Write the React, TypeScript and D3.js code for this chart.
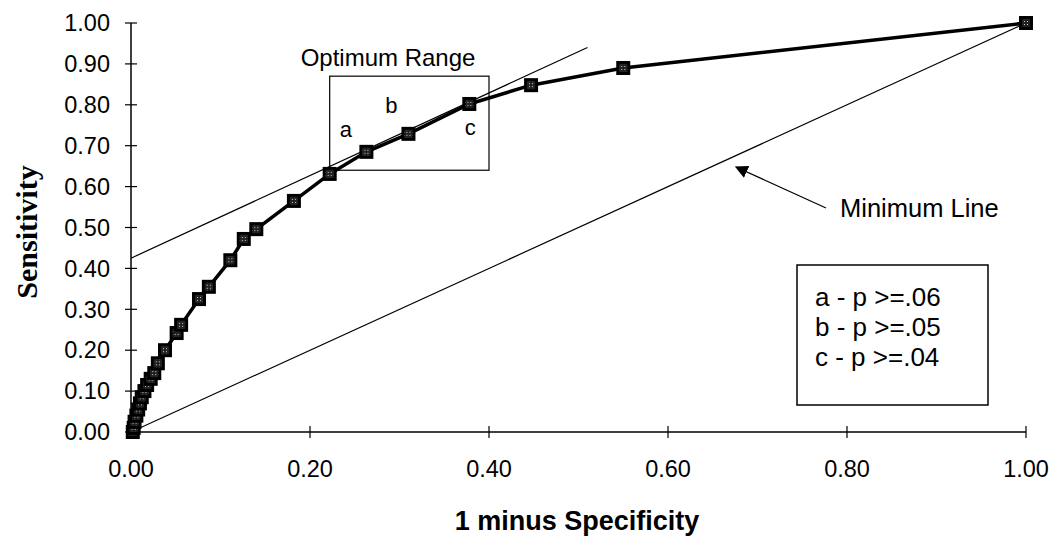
import React from 'react'
import * as d3 from 'd3'

// ROC curve points (1 - specificity, sensitivity)
const fpr = [0.002, 0.003, 0.004, 0.006, 0.008, 0.010, 0.012, 0.015, 0.018, 0.022, 0.026, 0.030, 0.038, 0.051, 0.056, 0.076, 0.087, 0.111, 0.126, 0.140, 0.182, 0.222, 0.263, 0.310, 0.378, 0.447, 0.550, 1.00]
const sens = [0.0, 0.01, 0.025, 0.04, 0.055, 0.07, 0.085, 0.10, 0.115, 0.13, 0.144, 0.168, 0.20, 0.242, 0.262, 0.325, 0.355, 0.42, 0.472, 0.496, 0.565, 0.631, 0.685, 0.729, 0.802, 0.848, 0.89, 1.00]

const xTicks = [0, 0.2, 0.4, 0.6, 0.8, 1.0]
const yTicks = [0, 0.1, 0.2, 0.3, 0.4, 0.5, 0.6, 0.7, 0.8, 0.9, 1.0]

// tangent line (intercept, end x, slope)
const tangent = { x0: 0, y0: 0.425, x1: 0.51, slope: 1.01 }
// optimum range box in data units
const optBox = { x0: 0.222, x1: 0.40, y0: 0.64, y1: 0.87 }
const letters = [
  { t: 'a', x: 0.24, y: 0.74 },
  { t: 'b', x: 0.291, y: 0.80 },
  { t: 'c', x: 0.379, y: 0.745 },
]
const legendLines = ['a - p >=.06', 'b - p >=.05', 'c - p >=.04']

const W = 1055
const H = 557

export default function App() {
  const x = d3.scaleLinear().domain([0, 1]).range([131, 1026])
  const y = d3.scaleLinear().domain([0, 1]).range([432, 23])
  const pts = fpr.map((v, i) => [v, sens[i]] as [number, number])
  const line = d3.line<[number, number]>().x(d => x(d[0])).y(d => y(d[1]))
  const font = 'Arial, "Liberation Sans", sans-serif'
  const ms = 14

  return (
    <svg width={W} height={H} style={{ position: 'absolute', left: 0, top: 0, background: '#fff' }}>
      <defs>
        <pattern id="dots" width="3" height="3" patternUnits="userSpaceOnUse">
          <rect width="3" height="3" fill="#222" />
          <rect x="1" y="1" width="1" height="1" fill="#ccc" />
        </pattern>
        <marker id="arrow" viewBox="0 0 10 10" refX="9" refY="5" markerWidth="13" markerHeight="13" orient="auto-start-reverse" markerUnits="userSpaceOnUse">
          <path d="M0,0 L10,5 L0,10 z" fill="#000" />
        </marker>
      </defs>

      {/* axes */}
      <line x1={x(0)} x2={x(0)} y1={y(0)} y2={y(1)} stroke="#000" strokeWidth={1.5} />
      <line x1={x(0)} x2={x(1)} y1={y(0)} y2={y(0)} stroke="#000" strokeWidth={1.5} />
      {yTicks.map(t => (
        <g key={'y' + t}>
          <line x1={x(0) - 6} x2={x(0) + 6} y1={y(t)} y2={y(t)} stroke="#000" strokeWidth={1.2} />
          <text x={110} y={y(t)} dy="0.35em" textAnchor="end" fontFamily={font} fontSize={23.5}>{t.toFixed(2)}</text>
        </g>
      ))}
      {xTicks.map(t => (
        <g key={'x' + t}>
          <line x1={x(t)} x2={x(t)} y1={y(0) - 6} y2={y(0) + 6} stroke="#000" strokeWidth={1.2} />
          <text x={x(t)} y={469} dy="0.35em" textAnchor="middle" fontFamily={font} fontSize={23.5}>{t.toFixed(2)}</text>
        </g>
      ))}
      <text transform="translate(37,232) rotate(-90)" textAnchor="middle" fontFamily='"Liberation Serif", "Times New Roman", serif' fontWeight="bold" fontSize={30}>Sensitivity</text>
      <text x={577} y={521} dy="0.35em" textAnchor="middle" fontFamily={font} fontWeight="bold" fontSize={27}>1 minus Specificity</text>

      {/* minimum line */}
      <line x1={x(0)} y1={y(0)} x2={x(1)} y2={y(1)} stroke="#000" strokeWidth={1.2} />
      {/* tangent */}
      <line x1={x(tangent.x0)} y1={y(tangent.y0)} x2={x(tangent.x1)} y2={y(tangent.y0 + tangent.slope * tangent.x1)} stroke="#000" strokeWidth={1.2} />

      {/* optimum box */}
      <rect x={x(optBox.x0)} y={y(optBox.y1)} width={x(optBox.x1) - x(optBox.x0)} height={y(optBox.y0) - y(optBox.y1)} fill="none" stroke="#000" strokeWidth={1.2} />
      <text x={388} y={y(optBox.y1) - 10} textAnchor="middle" fontFamily={font} fontSize={24}>Optimum Range</text>
      {letters.map(l => (
        <text key={l.t} x={x(l.x)} y={y(l.y)} dy="0.35em" textAnchor="middle" fontFamily={font} fontSize={22}>{l.t}</text>
      ))}

      {/* ROC curve */}
      <path d={line(pts) || ''} fill="none" stroke="#000" strokeWidth={3.5} />
      {pts.map((p, i) => (
        <g key={i} transform={`translate(${x(p[0])},${y(p[1])})`}>
          <rect x={-ms / 2} y={-ms / 2} width={ms} height={ms} fill="#000" />
          <rect x={-4} y={-4} width={8} height={8} fill="url(#dots)" />
        </g>
      ))}

      {/* minimum line annotation */}
      <line x1={826} y1={208} x2={736} y2={167} stroke="#000" strokeWidth={1.2} markerEnd="url(#arrow)" />
      <text x={840} y={208} dy="0.35em" fontFamily={font} fontSize={25.5}>Minimum Line</text>

      {/* legend */}
      <rect x={797} y={265} width={191} height={140} fill="#fff" stroke="#000" strokeWidth={1.5} />
      {legendLines.map((s, i) => (
        <text key={s} x={815} y={297 + i * 30} dy="0.35em" fontFamily={font} fontSize={26}>{s}</text>
      ))}
    </svg>
  )
}
